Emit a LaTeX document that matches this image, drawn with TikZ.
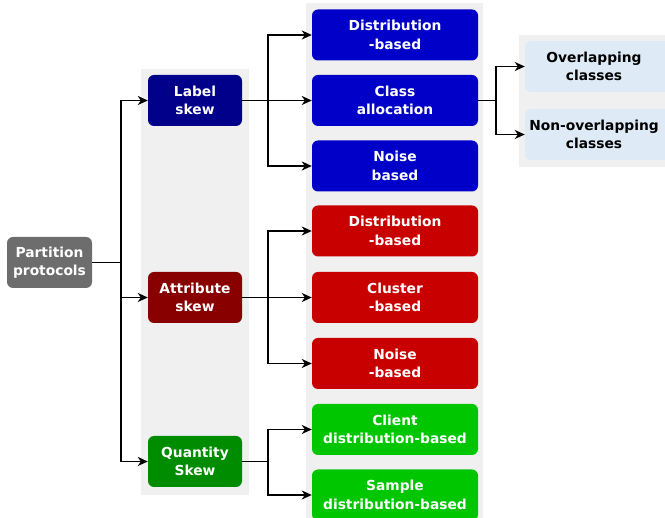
\documentclass[tikz,border=0pt]{standalone}
\usepackage{fontspec}
\setmainfont{DejaVu Sans}
\usetikzlibrary{arrows.meta}
\definecolor{bgray}{HTML}{F0F0F0}
\definecolor{pgray}{HTML}{6D6D6D}
\definecolor{navy}{HTML}{00008B}
\definecolor{bblue}{HTML}{0000C8}
\definecolor{dred}{HTML}{880000}
\definecolor{bred}{HTML}{C80000}
\definecolor{dgreen}{HTML}{008C00}
\definecolor{bgreen}{HTML}{00C600}
\definecolor{lblue}{HTML}{DEEBF7}
\tikzset{
  box/.style={rounded corners=6pt, align=center, text=white, inner sep=0pt,
    font=\fontsize{13.8}{18.5}\selectfont\bfseries},
  midbox/.style={box, minimum width=94, minimum height=51},
  leafbox/.style={box, minimum width=166, minimum height=51},
  conn/.style={line width=1.6pt},
  arr/.style={conn, -{Stealth[length=10pt,width=9pt,inset=3pt]}},
}
\begin{document}
\begin{tikzpicture}[x=1pt,y=-1pt]
\useasboundingbox (0,0) rectangle (665,518);
\clip (0,0) rectangle (665,518);
% backgrounds
\fill[bgray] (141,69) rectangle (249,495);
\fill[bgray] (306,3) rectangle (483,530);
\fill[bgray] (519,35) rectangle (680,167);
\fill[lblue, rounded corners=6pt] (525,41) rectangle (690,92);
\fill[lblue, rounded corners=6pt] (525,109) rectangle (690,160);
% nodes
\node[box, fill=pgray, minimum width=85, minimum height=51] (pp) at (49.5,262.5) {Partition\\protocols};
\node[midbox, fill=navy] (ls) at (195,100.5) {Label\\skew};
\node[midbox, fill=dred] (as) at (195,297.5) {Attribute\\skew};
\node[midbox, fill=dgreen] (qs) at (195,461.5) {Quantity\\Skew};
\node[leafbox, fill=bblue] (b1) at (395,35) {Distribution\\-based};
\node[leafbox, fill=bblue] (b2) at (395,100.5) {Class\\allocation};
\node[leafbox, fill=bblue] (b3) at (395,166) {Noise\\based};
\node[leafbox, fill=bred] (r1) at (395,231) {Distribution\\-based};
\node[leafbox, fill=bred] (r2) at (395,297.5) {Cluster\\-based};
\node[leafbox, fill=bred] (r3) at (395,363.5) {Noise\\-based};
\node[leafbox, fill=bgreen] (g1) at (395,429.5) {Client\\distribution-based};
\node[leafbox, fill=bgreen] (g2) at (395,495) {Sample\\distribution-based};
\node[box, text=black, minimum width=138, minimum height=51] (o1) at (594,66.5) {Overlapping\\classes};
\node[box, text=black, minimum width=138, minimum height=51] (o2) at (594,134.5) {Non-overlapping\\classes};
% connectors
\coordinate (j0) at (121,262.5);
\draw[conn] (pp.east) -- (j0);
\draw[arr] (j0) |- (ls.west);
\draw[arr] (j0) |- (as.west);
\draw[arr] (j0) |- (qs.west);
\coordinate (j1) at (268,100.5);
\draw[conn] (ls.east) -- (j1);
\draw[arr] (j1) |- (b1.west);
\draw[arr] (j1) -- (b2.west);
\draw[arr] (j1) |- (b3.west);
\coordinate (j2) at (268,297.5);
\draw[conn] (as.east) -- (j2);
\draw[arr] (j2) |- (r1.west);
\draw[arr] (j2) -- (r2.west);
\draw[arr] (j2) |- (r3.west);
\coordinate (j3) at (268,461.5);
\draw[conn] (qs.east) -- (j3);
\draw[arr] (j3) |- (g1.west);
\draw[arr] (j3) |- (g2.west);
\coordinate (j4) at (496,100.5);
\draw[conn] (b2.east) -- (j4);
\draw[arr] (j4) |- (o1.west);
\draw[arr] (j4) |- (o2.west);
\end{tikzpicture}
\end{document}
